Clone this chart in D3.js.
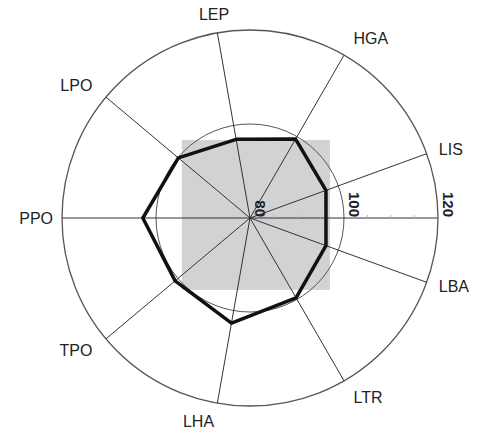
<!DOCTYPE html>
<html>
<head>
<meta charset="utf-8">
<script src="https://cdn.jsdelivr.net/npm/d3@7"></script>
<style>
  html, body { margin: 0; padding: 0; background: #fff; }
  svg { display: block; }
</style>
</head>
<body>
<svg id="chart" width="488" height="429"></svg>
<script>
// ---- data ----
const axisNames = ["LEP", "HGA", "LIS", "LBA", "LTR", "LHA", "TPO", "PPO", "LPO"];
const seriesValues = [97.0, 99.4, 97.2, 97.2, 99.6, 102.7, 100.8, 102.8, 99.9];
const ringValues = [100, 120];
const tickValues = [80, 100, 120];
const tickLabels = ["80", "100", "120"];
const minorTickValues = [85, 90, 95, 105, 110, 115];
// shaded background box, in data units (extent from centre: left, right, top, bottom)
const shadeExtent = [94.5, 97.0, 96.6, 95.3];

// ---- layout ----
const width = 488, height = 429;
const cx = 250, cy = 218;
const outerR = 188;
const startAngleDeg = -10;

const svg = d3.select("#chart");
const g = svg.append("g").attr("transform", `translate(${cx},${cy})`);

const r = d3.scaleLinear().domain([80, 120]).range([0, outerR]);
const angle = d3.scaleLinear()
  .domain([0, axisNames.length])
  .range([startAngleDeg * Math.PI / 180, (startAngleDeg + 360) * Math.PI / 180]);

// shaded box
g.append("rect")
  .attr("x", -r(shadeExtent[0]))
  .attr("y", -r(shadeExtent[2]))
  .attr("width", r(shadeExtent[0]) + r(shadeExtent[1]))
  .attr("height", r(shadeExtent[2]) + r(shadeExtent[3]))
  .attr("fill", "#d2d2d2");

// rings
g.selectAll("circle.ring")
  .data(ringValues)
  .join("circle")
  .attr("class", "ring")
  .attr("r", d => r(d))
  .attr("fill", "none")
  .attr("stroke", "#555")
  .attr("stroke-width", (d, i) => i === ringValues.length - 1 ? 1.3 : 1);

// spokes
const maxV = r.domain()[1];
g.selectAll("line.spoke")
  .data(axisNames)
  .join("line")
  .attr("class", "spoke")
  .attr("x1", 0).attr("y1", 0)
  .attr("x2", (d, i) => r(maxV) * Math.sin(angle(i)))
  .attr("y2", (d, i) => -r(maxV) * Math.cos(angle(i)))
  .attr("stroke", "#333")
  .attr("stroke-width", 1);

// radial axis (to the right)
g.append("line")
  .attr("x1", 0).attr("y1", 0)
  .attr("x2", r(maxV)).attr("y2", 0)
  .attr("stroke", "#333")
  .attr("stroke-width", 1);

// minor ticks
g.selectAll("line.minor")
  .data(minorTickValues)
  .join("line")
  .attr("class", "minor")
  .attr("x1", d => r(d)).attr("x2", d => r(d))
  .attr("y1", -3).attr("y2", 0)
  .attr("stroke", "#bbb")
  .attr("stroke-width", 1);

// radial tick labels (rotated)
g.selectAll("text.tick")
  .data(tickValues)
  .join("text")
  .attr("class", "tick")
  .attr("transform", d => `translate(${r(d) + 5},${-1}) rotate(90)`)
  .attr("text-anchor", "end")
  .attr("font-family", "Liberation Sans, Arial, sans-serif")
  .attr("font-weight", "bold")
  .attr("font-size", 15)
  .attr("fill", "#222")
  .text((d, i) => tickLabels[i]);

// data polygon
const radial = d3.lineRadial()
  .angle((d, i) => angle(i))
  .radius(d => r(d))
  .curve(d3.curveLinearClosed);

g.append("path")
  .datum(seriesValues)
  .attr("d", radial)
  .attr("fill", "none")
  .attr("stroke", "#111")
  .attr("stroke-width", 3.5)
  .attr("stroke-linejoin", "round");

// axis labels
const labelRadius = a => 197 + 10 * (1 - Math.pow(Math.abs(Math.sin(a)), 8));
g.selectAll("text.axis-label")
  .data(axisNames)
  .join("text")
  .attr("class", "axis-label")
  .attr("x", (d, i) => labelRadius(angle(i)) * Math.sin(angle(i)))
  .attr("y", (d, i) => -labelRadius(angle(i)) * Math.cos(angle(i)))
  .attr("dy", "0.35em")
  .attr("text-anchor", (d, i) => {
    const a = angle(i);
    if (Math.cos(a) > 0.95) return "middle";
    return Math.sin(a) > 0 ? "start" : "end";
  })
  .attr("font-family", "Liberation Sans, Arial, sans-serif")
  .attr("font-size", 16)
  .attr("fill", "#222")
  .text(d => d);
</script>
</body>
</html>
